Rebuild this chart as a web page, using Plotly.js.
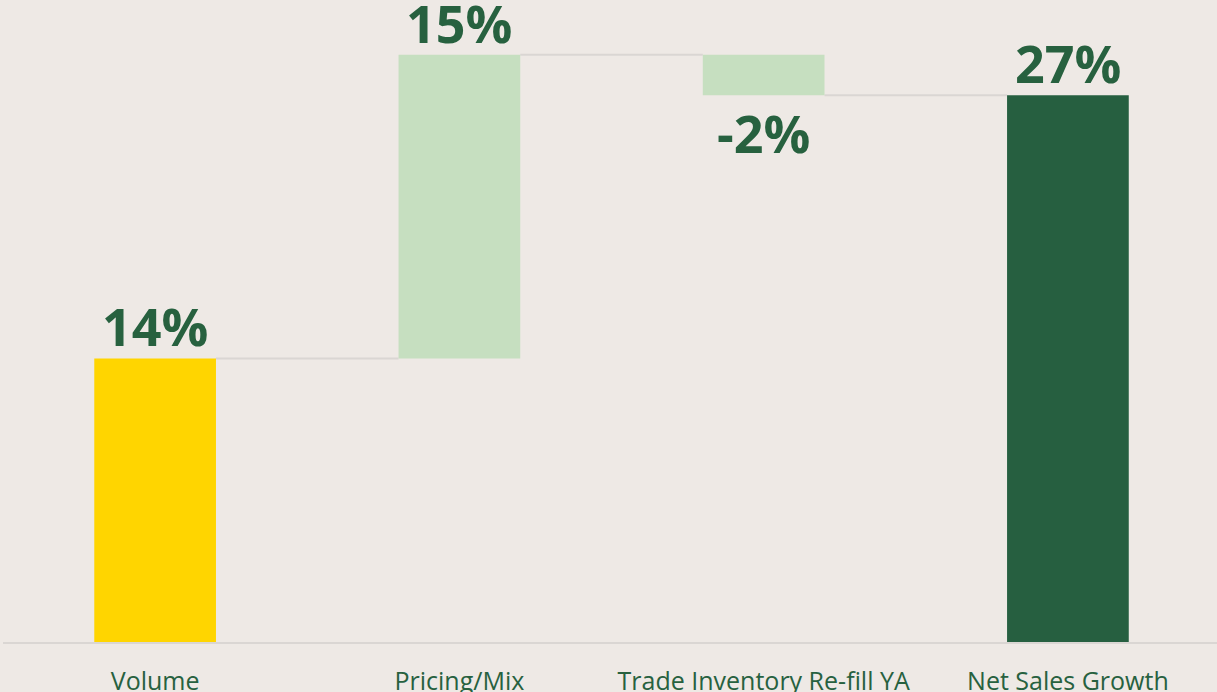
<!DOCTYPE html>
<html>
<head>
<meta charset="utf-8">
<script src="https://cdn.plot.ly/plotly-3.0.1.min.js"></script>
<style>
html,body{margin:0;padding:0;background:#EEE9E5;}
#chart{width:1217px;height:692px;}
</style>
</head>
<body>
<div id="chart"></div>
<script>
// Data
const categories = ["Volume", "Pricing/Mix", "Trade Inventory Re-fill YA", "Net Sales Growth"];
const changes = [14, 15, -2, 27];          // percentage points
const measures = ["relative", "relative", "relative", "total"];
const labels = ["14%", "15%", "-2%", "27%"];
const barColors = ["#FFD500", "#C6DFC0", "#C6DFC0", "#265F40"];

// Derive bar bases and ends from the data
const bases = [], lengths = [], ends = [];
let running = 0;
for (let i = 0; i < changes.length; i++) {
  if (measures[i] === "total") {
    bases.push(0); lengths.push(changes[i]); running = changes[i];
  } else {
    bases.push(running); lengths.push(changes[i]); running += changes[i];
  }
  ends.push(running);
}

const barWidth = 0.4;
const green = "#27613F";

const trace = {
  type: "bar",
  x: categories,
  y: lengths,
  base: bases,
  width: barWidth,
  marker: {color: barColors, line: {width: 0}},
  hoverinfo: "skip"
};

// Connector lines between consecutive bars
const shapes = [];
for (let i = 0; i < categories.length - 1; i++) {
  shapes.push({
    type: "line", xref: "x", yref: "y",
    x0: i + barWidth / 2, x1: i + 1 - barWidth / 2,
    y0: ends[i], y1: ends[i],
    line: {color: "#DAD6D3", width: 2},
    layer: "below"
  });
}

// Value labels at the outer end of each bar
const annotations = categories.map((c, i) => {
  const neg = lengths[i] < 0;
  return {
    xref: "x", yref: "y", x: i, y: bases[i] + lengths[i],
    text: labels[i], showarrow: false,
    yanchor: neg ? "top" : "bottom",
    yshift: neg ? 0 : -5,
    font: {family: "Open Sans, sans-serif", size: 52, color: green, weight: 700}
  };
});

const layout = {
  width: 1217, height: 692,
  margin: {l: 3, r: 0, t: 0, b: 50},
  paper_bgcolor: "#EEE9E5",
  plot_bgcolor: "#EEE9E5",
  showlegend: false,
  font: {family: "Open Sans, sans-serif", color: green},
  xaxis: {
    type: "category",
    range: [-0.5, 3.49],
    showline: true, linecolor: "#DAD6D3", linewidth: 2,
    showgrid: false, zeroline: false, ticks: "",
    ticklabelstandoff: 16,
    tickfont: {family: "Open Sans, sans-serif", size: 25, color: green}
  },
  yaxis: {
    range: [0, 31.7],
    visible: false, showgrid: false, zeroline: false, fixedrange: true
  },
  shapes: shapes,
  annotations: annotations,
  hovermode: false
};

Plotly.newPlot("chart", [trace], layout, {displayModeBar: false, staticPlot: true});
</script>
</body>
</html>
